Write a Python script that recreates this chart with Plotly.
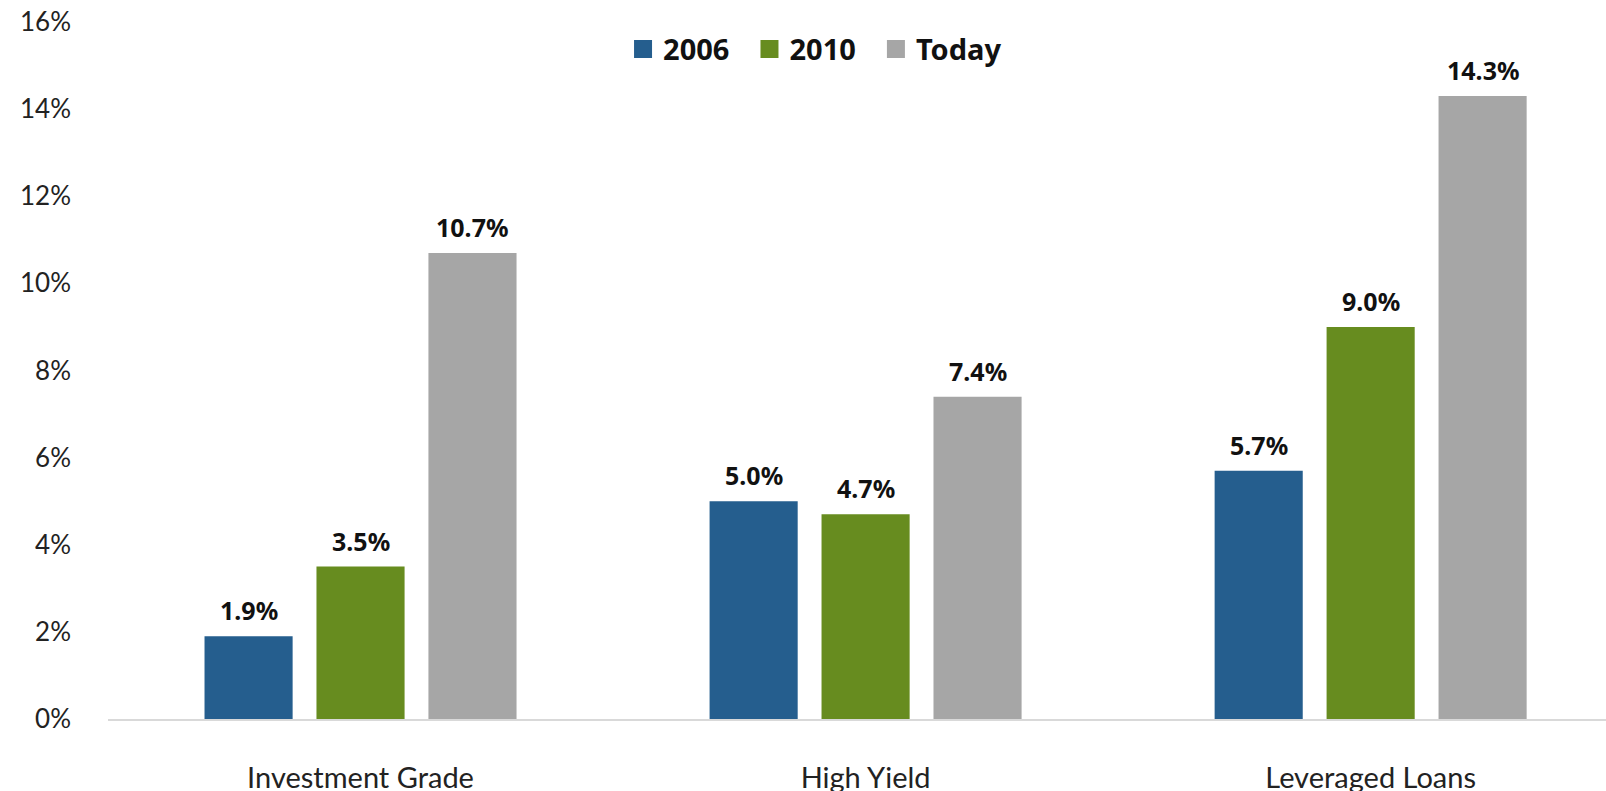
import plotly.graph_objects as go

# Data
categories = ['Investment Grade', 'High Yield', 'Leveraged Loans']
series_names = ['2006', '2010', 'Today']
values_2006 = [1.9, 5.0, 5.7]
values_2010 = [3.5, 4.7, 9.0]
values_today = [10.7, 7.4, 14.3]
y_ticks = [0, 2, 4, 6, 8, 10, 12, 14, 16]
y_tick_labels = [f'{t}%' for t in y_ticks]

colors = ['#255E8E', '#678C1F', '#A6A6A6']
all_values = [values_2006, values_2010, values_today]

W, H = 1606, 791
margin = dict(l=108, r=0, t=22, b=72)
bargap = 0.335
bargroupgap = 0.213
x_range = [-0.5, 2.466]

fig = go.Figure()

for name, vals, col in zip(series_names, all_values, colors):
    fig.add_trace(go.Bar(
        x=categories,
        y=vals,
        name=name,
        marker=dict(color=col, line=dict(width=0)),
        showlegend=False,
    ))
    # legend entry with a bigger square swatch
    fig.add_trace(go.Scatter(
        x=[None], y=[None],
        mode='markers',
        name=name + '\u00a0\u00a0',
        marker=dict(symbol='square', size=16, color=col, line=dict(width=2, color=col)),
    ))

# value labels above bars
px_per_cat = (W - margin['l'] - margin['r']) / (x_range[1] - x_range[0])
slot = (1 - bargap) / 3 * px_per_cat
annotations = []
for i, vals in enumerate(all_values):
    for cat, v in zip(categories, vals):
        annotations.append(dict(
            x=cat, y=v, xref='x', yref='y',
            text=f'<b>{v:.1f}%</b>',
            showarrow=False,
            xshift=(i - 1) * slot,
            yshift=26,
            yanchor='middle',
            font=dict(family='Noto Sans', size=25, color='#111111'),
        ))

fig.update_layout(
    width=W, height=H,
    margin=margin,
    paper_bgcolor='white',
    plot_bgcolor='white',
    barmode='group',
    bargap=bargap,
    bargroupgap=bargroupgap,
    font=dict(family='Lato', size=26, color='#222222'),
    showlegend=True,
    legend=dict(
        orientation='h',
        x=0.477, xanchor='center',
        y=0.961, yanchor='middle',
        font=dict(family='Noto Sans', size=29, color='#111111', weight='bold'),
        itemsizing='trace',
        bgcolor='rgba(0,0,0,0)',
    ),
    xaxis=dict(
        range=x_range,
        automargin=False,
        showgrid=False,
        showline=True,
        linecolor='#D9D9D9',
        linewidth=2,
        ticks='',
        ticklabelstandoff=32,
        tickfont=dict(family='Lato', size=29, color='#222222'),
    ),
    yaxis=dict(
        range=[0, 16],
        automargin=False,
        tickvals=y_ticks,
        ticktext=y_tick_labels,
        showgrid=False,
        zeroline=False,
        showline=False,
        ticks='',
        ticklabelstandoff=36,
        tickfont=dict(family='Lato', size=26, color='#222222'),
    ),
    annotations=annotations,
)

# drop the default page margin so the figure sits at the window's corner
fig.write_html('out.html', config={'displayModeBar': False},
               post_script="document.body.style.margin='0';")
